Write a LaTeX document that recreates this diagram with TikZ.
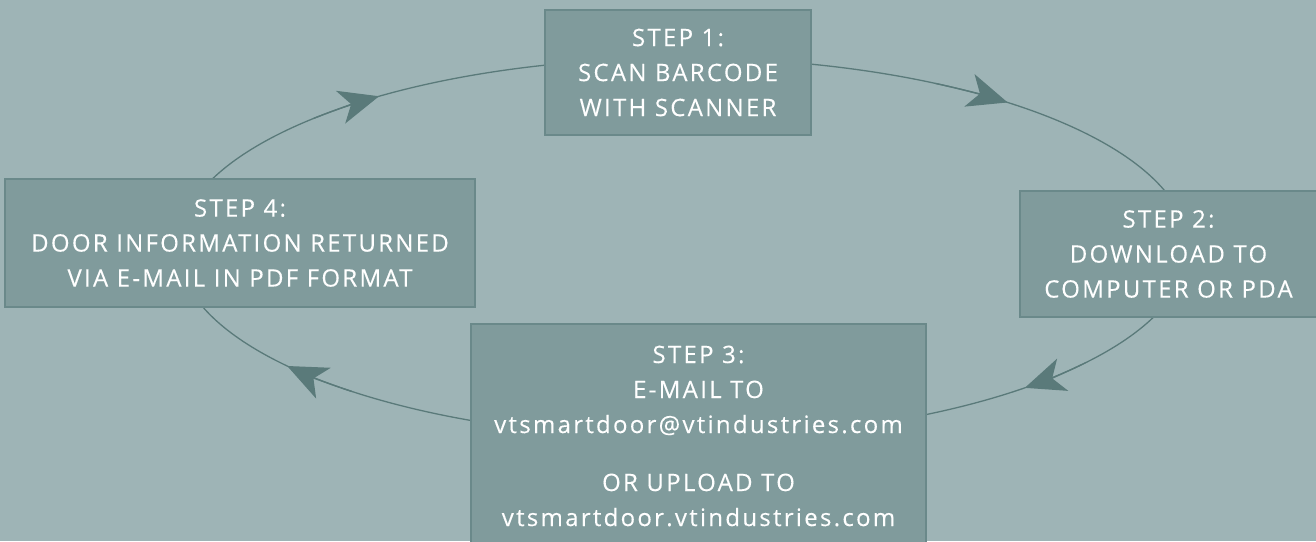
\documentclass[tikz,border=0pt]{standalone}
\usepackage{fontspec}
\setmainfont{Open Sans}[LetterSpace=9.5,FakeBold=0.2]
\usetikzlibrary{arrows.meta}
\definecolor{bgc}{HTML}{9EB4B6}
\definecolor{boxc}{HTML}{809B9C}
\definecolor{boxedge}{HTML}{6A898A}
\definecolor{linec}{HTML}{5A7A7A}
\begin{document}
\begin{tikzpicture}[x=1pt,y=1pt,
  stepbox/.style={draw=boxedge, line width=1.5pt, fill=boxc, text=white,
    align=center, font=\fontsize{24}{35}\selectfont, inner sep=0pt},
  cyc/.style={draw=linec, line width=1.3pt},
  tipline/.style={cyc, -{Stealth[length=40pt,width=34pt,inset=11pt]}}]
\fill[bgc] (0,0) rectangle (1316,541);
\useasboundingbox (0,0) rectangle (1316,541);
\coordinate (c) at (683,293);
% cycle
\draw[cyc] (c) ellipse[x radius=505pt, y radius=190pt];
\draw[tipline] (c) ++(137:505pt and 190pt) arc[start angle=137, end angle=127, x radius=505pt, y radius=190pt];
\draw[tipline] (c) ++(60:505pt and 190pt) arc[start angle=60, end angle=50, x radius=505pt, y radius=190pt];
\draw[tipline] (c) ++(-37:505pt and 190pt) arc[start angle=-37, end angle=-47.4, x radius=505pt, y radius=190pt];
\draw[tipline] (c) ++(-131:505pt and 190pt) arc[start angle=-131, end angle=-141.6, x radius=505pt, y radius=190pt];
% boxes
\node[stepbox, minimum width=266pt, minimum height=125pt] (s1) at (678,468.5)
  {STEP 1:\\SCAN BARCODE\\WITH SCANNER};
\node[stepbox, minimum width=297pt, minimum height=126pt] (s2) at (1168.5,287)
  {STEP 2:\\DOWNLOAD TO\\COMPUTER OR PDA};
\node[stepbox, minimum width=455pt, minimum height=224pt] (s3) at (698.5,105)
  {STEP 3:\\E-MAIL TO\\vtsmartdoor@vtindustries.com\\[23pt]OR UPLOAD TO\\vtsmartdoor.vtindustries.com};
\node[stepbox, minimum width=470pt, minimum height=128pt] (s4) at (240,298)
  {STEP 4:\\DOOR INFORMATION RETURNED\\VIA E-MAIL IN PDF FORMAT};
\end{tikzpicture}
\end{document}
